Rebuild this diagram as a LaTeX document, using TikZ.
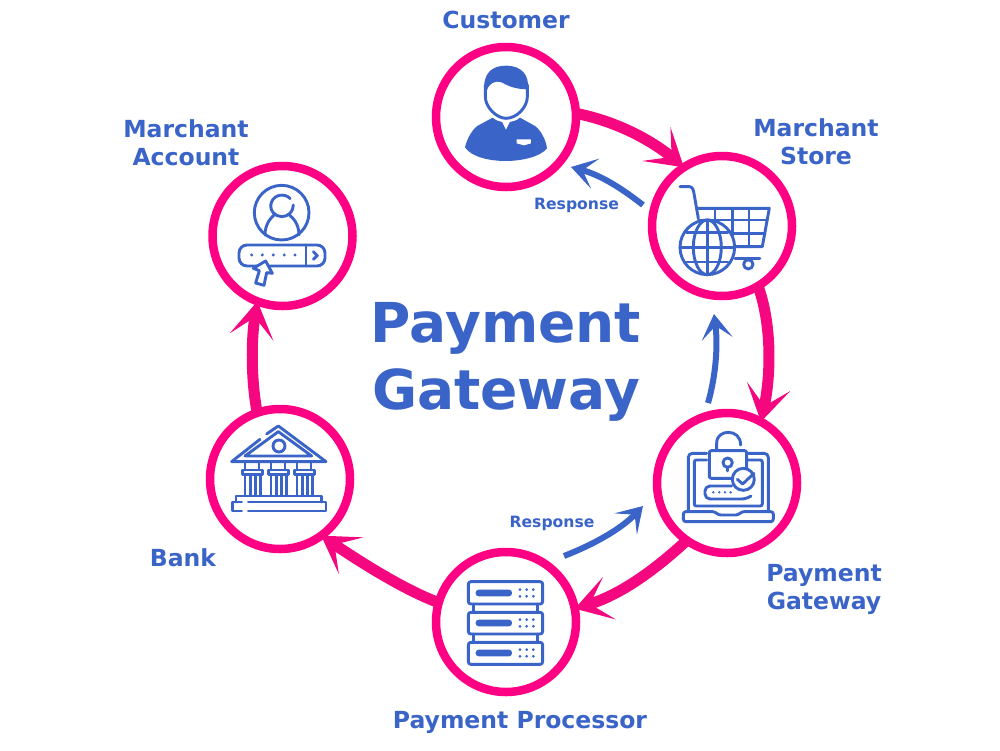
\documentclass[tikz,border=0pt]{standalone}
\usepackage{fontspec}
\setmainfont{DejaVu Sans}
\usetikzlibrary{arrows.meta}
\definecolor{rim}{HTML}{FF0084}
\definecolor{flow}{HTML}{F5087F}
\definecolor{ink}{HTML}{3A64C8}
\tikzset{
  x=1pt,y=-1pt,
  hub/.style={circle,draw=rim,line width=8.5pt,fill=white,minimum size=140pt,inner sep=0pt,outer sep=0pt},
  mainflow/.style={draw=flow,line width=11pt,-{Stealth[length=36pt,width=44pt,inset=20pt]}},
  backflow/.style={draw=ink,line width=6pt,-{Stealth[length=25pt,width=31pt,inset=13pt]}},
  lab/.style={text=ink,font=\bfseries\fontsize{23.5}{28}\selectfont,align=center,inner sep=0pt},
  small/.style={text=ink,font=\bfseries\fontsize{15.6}{18}\selectfont,inner sep=0pt},
  title/.style={text=ink,font=\bfseries\fontsize{55}{67}\selectfont,align=center,inner sep=0pt},
  icon/.style={draw=ink,line width=2.9pt,line cap=round,line join=round},
  zoomA/.style={shift={(420,50)},x=0.3333pt,y=-0.3333pt},
  zoomB/.style={shift={(200,160)},x=0.3333pt,y=-0.3333pt},
  zoomC/.style={shift={(430,400)},x=0.3333pt,y=-0.3333pt},
}
\begin{document}
\begin{tikzpicture}
\useasboundingbox (0,0) rectangle (1000,750);
\fill[white] (0,0) rectangle (1000,750);
% hubs
\node[hub] (cust) at (506,117) {};
\node[hub] (store) at (722,226) {};
\node[hub] (gate) at (727,483) {};
\node[hub] (proc) at (506,622) {};
\node[hub] (bank) at (280,479) {};
\node[hub] (acct) at (282.5,236) {};
% main flow
\draw[mainflow] (cust.3) .. controls (620,122) and (655,143) .. (store.123);
\draw[mainflow] (store.-59) .. controls (772,325) and (771,375) .. (gate.61);
\draw[mainflow] (gate.-125) .. controls (655,570) and (620,595) .. (proc.11);
\draw[mainflow] (proc.164) .. controls (405,590) and (365,565) .. (bank.-54);
\draw[mainflow] (bank.109) .. controls (251,380) and (251,340) .. (acct.-111);
% response arrows
\coordinate (r1a) at (643,205);
\coordinate (r1b) at (571,167);
\coordinate (r2a) at (564,556);
\coordinate (r2b) at (643,506);
\coordinate (r3a) at (708,403);
\coordinate (r3b) at (714,314);
\draw[backflow] (r1a) .. controls (620,187) and (600,175) .. (r1b);
\draw[backflow] (r2a) .. controls (592,545) and (620,530) .. (r2b);
\draw[backflow] (r3a) .. controls (716,375) and (718,345) .. (r3b);
% labels
\node[small] (resp1) at (576.5,205) {Response};
\node[small] (resp2) at (552,523) {Response};
\node[lab] (lcust) at (506,20) {Customer};
\node[lab] (lstore) at (816,142) {Marchant\\Store};
\node[lab] (lacct) at (186,143) {Marchant\\Account};
\node[lab] (lbank) at (183,558) {Bank};
\node[lab] (lgate) at (824,589) {Payment\\Gateway};
\node[lab] (lproc) at (520,722) {Payment Processor};
\node[title] (ttl) at (506,362) {Payment\\Gateway};
% customer icon
\begin{scope}[zoomA]
\draw[icon] (196,105) -- (196,140) .. controls (196,172) and (230,205) .. (258,205) .. controls (290,205) and (322,172) .. (322,140) -- (322,105);
\fill[ink] (193,125) .. controls (188,70) and (215,47) .. (258,47) .. controls (305,47) and (328,75) .. (324,118) .. controls (295,118) and (270,112) .. (245,97) .. controls (225,90) and (205,100) .. (200,125) -- cycle;
\fill[ink] (218,203) .. controls (228,212) and (238,214) .. (246,216) -- (258,240) -- (270,216) .. controls (280,214) and (290,212) .. (300,203) -- (345,228) .. controls (362,240) and (378,270) .. (381,295) .. controls (360,322) and (300,333) .. (258,333) .. controls (210,333) and (155,322) .. (135,292) .. controls (140,270) and (155,240) .. (172,228) -- cycle;
\fill[white] (290,268) -- (333,268) -- (333,280) -- (312,286) -- (290,280) -- cycle;
% cart
\draw[icon] (780,410) -- (808,410) .. controls (818,410) and (820,420) .. (822,430) -- (835,505);
\draw[icon] (835,475) -- (1048,475) -- (1027,590) -- (940,590);
\draw[icon] (835,510) -- (1042,510);
\draw[icon] (930,550) -- (1035,550);
\draw[icon] (885,475) -- (885,510);
\draw[icon] (937,475) -- (937,590);
\draw[icon] (987,475) -- (987,590);
\draw[icon] (945,625) -- (1020,625);
\draw[icon] (985,643) circle (14);
\draw[icon,fill=white] (862,592) circle (82);
\draw[icon] (862,510) -- (862,674);
\draw[icon] (862,592) ellipse (42 and 82);
\draw[icon] (780,592) -- (944,592);
\draw[icon] (800,548) -- (924,548);
\draw[icon] (800,636) -- (924,636);
\end{scope}
% account icon
\begin{scope}[zoomB]
\draw[icon] (245,158) circle (82);
\draw[icon] (270,115) .. controls (255,100) and (225,102) .. (215,125) .. controls (205,150) and (225,170) .. (245,170) .. controls (265,170) and (280,155) .. (280,135);
\fill[ink] (270,116) circle (4);
\draw[icon] (195,225) .. controls (195,190) and (215,172) .. (222,165);
\draw[icon] (297,225) .. controls (297,190) and (277,172) .. (268,165);
\draw[icon,rounded corners=8pt] (117,255) rectangle (375,318);
\draw[icon] (318,255) -- (318,318);
\draw[icon] (340,275) -- (352,287) -- (340,298);
\foreach \px in {155,187,220,253,285} \fill[ink] (\px,285) circle (5);
\draw[icon,fill=white] (197,303) -- (217,340) -- (200,338) -- (192,376) -- (167,369) -- (178,332) -- (160,325) -- cycle;
\end{scope}
% bank icon
\begin{scope}[zoomB]
\draw[icon] (200,822) -- (235,798) -- (378,905) -- (95,905) -- (180,838);
\draw[icon] (135,888) -- (235,815) -- (335,888) -- cycle;
\draw[icon] (237,858) circle (18);
\foreach \cx in {127,205,283} {
  \draw[icon] (\cx,930) rectangle ++(60,14);
  \draw[icon] (\cx+8,910) -- (\cx+8,930);
  \draw[icon] (\cx+50,910) -- (\cx+50,930);
  \draw[icon] (\cx+8,944) -- (\cx+8,1006);
  \draw[icon] (\cx+24,944) -- (\cx+24,1006);
  \draw[icon] (\cx+40,944) -- (\cx+40,1006);
  \draw[icon] (\cx+54,944) -- (\cx+54,1006);
}
\draw[icon] (108,1026) -- (108,1008) -- (365,1008) -- (365,1026);
\draw[icon] (145,1026) -- (378,1026) -- (378,1053) -- (145,1053);
\draw[icon] (125,1053) -- (97,1053) -- (97,1026) -- (125,1026);
\end{scope}
% gateway icon
\begin{scope}[zoomC]
\draw[icon,rounded corners=4pt] (830,160) -- (775,160) -- (775,333);
\draw[icon,rounded corners=4pt] (955,160) -- (1015,160) -- (1015,333);
\draw[icon,rounded corners=2pt] (830,180) -- (793,180) -- (793,318) -- (997,318) -- (997,180) -- (955,180);
\draw[icon,rounded corners=2.5pt] (760,335) -- (855,335) -- (865,345) -- (925,345) -- (935,335) -- (1030,335) -- (1030,365) -- (760,365) -- cycle;
\draw[icon,rounded corners=2pt] (905,235) -- (838,235) -- (838,152) -- (950,152) -- (950,205);
\draw[icon] (860,150) -- (860,130) .. controls (860,105) and (880,97) .. (895,97) .. controls (915,97) and (932,110) .. (932,135);
\draw[icon] (893,188) circle (14);
\draw[icon] (893,202) -- (893,213);
\draw[icon,rounded corners=5pt] (905,258) -- (825,258) -- (825,297) -- (950,297) -- (963,288);
\draw[icon,fill=white] (940,238) circle (33);
\draw[icon] (922,238) -- (938,252) -- (972,220);
\foreach \px in {850,868,885,902} \fill[ink] (\px,277) circle (4);
\end{scope}
% processor icon
\begin{scope}[zoomC]
\foreach \ya/\yb in {545/612,637/702,727/793} {
  \draw[icon,rounded corners=2.5pt] (115,\ya) rectangle (338,\yb);
}
\draw[icon] (130,612) -- (130,637);
\draw[icon] (323,612) -- (323,637);
\draw[icon] (130,702) -- (130,727);
\draw[icon] (323,702) -- (323,727);
\foreach \yc in {579,669,759} {
  \fill[ink,rounded corners=3pt] (137,\yc-10) rectangle (246,\yc+10);
  \foreach \px in {270,290,310} {
    \fill[ink] (\px,\yc-10) circle (4.5);
    \fill[ink] (\px,\yc+10) circle (4.5);
  }
}
\end{scope}
\end{tikzpicture}
\end{document}
